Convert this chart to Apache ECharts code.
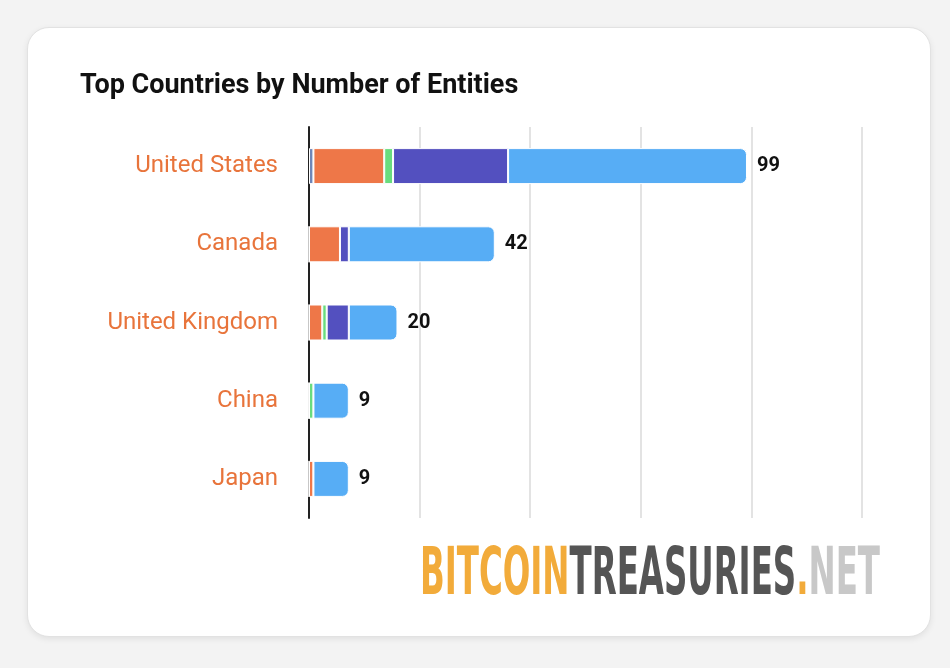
<!DOCTYPE html>
<html>
<head>
<meta charset="utf-8">
<script src="https://cdn.jsdelivr.net/npm/echarts@6/dist/echarts.min.js"></script>
<style>
body { margin: 0; background: #f3f3f3; }
#card { position: absolute; left: 27px; top: 27px; width: 902px; height: 608px; background: #fff; border: 1px solid #e2e2e2; border-radius: 22px; box-shadow: 0 2px 6px rgba(0,0,0,0.08); }
#chart { position: absolute; left: 0; top: 0; width: 950px; height: 668px; }
</style>
</head>
<body>
<div id="card"></div>
<div id="chart"></div>
<script>
var countries = ['United States', 'Canada', 'United Kingdom', 'China', 'Japan'];
var seriesNames = ['Other', 'Private', 'Government', 'Public', 'ETF'];
var otherVals = [1, 0, 0, 0, 0];
var privateVals = [16, 7, 3, 0, 1];
var govVals = [2, 0, 1, 1, 0];
var publicVals = [26, 2, 5, 0, 0];
var etfVals = [54, 33, 11, 8, 8];
var totals = [99, 42, 20, 9, 9];
var colors = ['#6f86b8', '#ee7748', '#69dc7e', '#5350bf', '#57adf5'];

// logo width: measure the condensed font and squeeze to fit
var logoFont = 'bold 66px "DejaVu Sans Condensed"';
var ctx = document.createElement('canvas').getContext('2d');
ctx.font = logoFont;
var logoScale = 460 / ctx.measureText('BITCOINTREASURIES.NET').width;

var chart = echarts.init(document.getElementById('chart'));
var all = [otherVals, privateVals, govVals, publicVals, etfVals];
var series = all.map(function (vals, i) {
    return {
        name: seriesNames[i], type: 'bar', stack: 'total', barWidth: 36,
        itemStyle: { color: colors[i], borderColor: '#fff', borderWidth: 1,
            borderRadius: i === 4 ? [0, 6, 6, 0] : 0 },
        label: i === 4 ? { show: true, position: 'right', distance: 10, color: '#111',
            fontSize: 20, fontWeight: 'bold', fontFamily: 'Roboto',
            formatter: function (p) { return totals[p.dataIndex]; } } : { show: false },
        data: vals
    };
});
var ls = function (c) { return { fill: c, fontSize: 66, fontFamily: 'DejaVu Sans Condensed', fontWeight: 'bold' }; };
chart.setOption({
    animation: false,
    title: { text: 'Top Countries by Number of Entities', left: 75, top: 68,
        textStyle: { fontSize: 27, fontWeight: 'bold', color: '#111', fontFamily: 'Roboto' } },
    grid: { left: 309, right: 88, top: 127, bottom: 150 },
    xAxis: { type: 'value', min: 0, max: 125, interval: 25,
        axisLabel: { show: false }, splitLine: { lineStyle: { color: '#e3e3e3', width: 2 } } },
    yAxis: { type: 'category', inverse: true, data: countries,
        axisTick: { show: false },
        axisLine: { lineStyle: { color: '#222', width: 2 } },
        axisLabel: { color: '#e8743b', fontSize: 24, margin: 31, fontFamily: 'Roboto' } },
    series: series,
    graphic: [{
        type: 'group', x: 420, y: 544, scaleX: logoScale,
        children: [{
            type: 'text', x: 0, y: 0,
            style: { rich: { a: ls('#f2ab3a'), b: ls('#555'), c: ls('#f2ab3a'), d: ls('#c8c8c8') },
                text: '{a|BITCOIN}{b|TREASURIES}{c|.}{d|NET}' }
        }]
    }]
});
</script>
</body>
</html>
